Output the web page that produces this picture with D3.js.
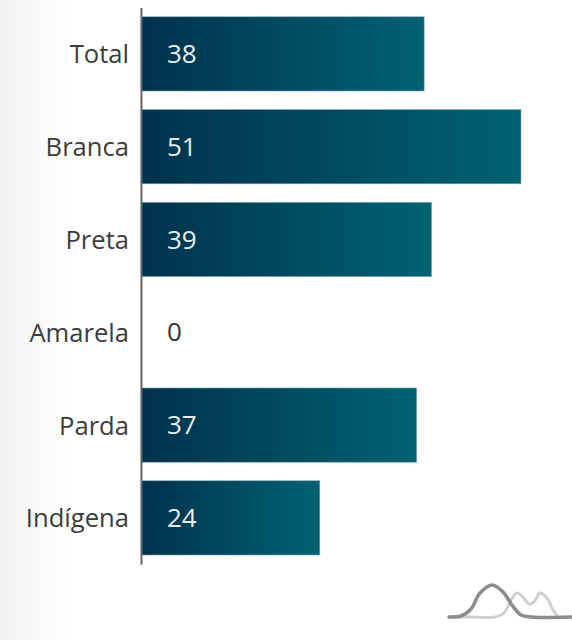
<!DOCTYPE html>
<html lang="pt">
<head>
<meta charset="utf-8">
<script src="https://cdn.jsdelivr.net/npm/d3@7"></script>
<style>
  html, body { margin: 0; padding: 0; background: #fff; }
  svg { display: block; }
  text { font-family: "Open Sans", "Noto Sans", sans-serif; }
</style>
</head>
<body>
<svg id="chart" width="572" height="640"></svg>
<script>
// Share per group, in percent
const categories = ["Total", "Branca", "Preta", "Amarela", "Parda", "Indígena"];
const values = [38, 51, 39, 0, 37, 24];

// Outline of the small two-curve emblem in the bottom right corner
const emblemBack = [[0, 0], [20, 0], [46, 0], [55, -4], [62, -17], [68, -24], [74, -20], [80, -13], [85, -15], [91, -24], [98, -19], [104, -7], [109, 0]];
const emblemFront = [[0, 0], [12, -1], [22, -8], [31, -24], [43, -32], [54, -25], [63, -12], [72, -2], [82, 0], [123, 0]];

const svg = d3.select("#chart");
const width = 572, height = 640;
const margin = { left: 141 };

const x = d3.scaleLinear().domain([0, 51]).range([margin.left, 521]);
const y = d3.scaleBand().domain(categories).range([7.5, 564.3]).paddingInner(0.2).paddingOuter(0.1);

const defs = svg.append("defs");

const pageShade = defs.append("linearGradient").attr("id", "pageShade");
pageShade.append("stop").attr("offset", "0%").attr("stop-color", "#f2f2f2");
pageShade.append("stop").attr("offset", "100%").attr("stop-color", "#ffffff");

const barFill = defs.append("linearGradient").attr("id", "barFill");
barFill.append("stop").attr("offset", "0%").attr("stop-color", "#00324c");
barFill.append("stop").attr("offset", "100%").attr("stop-color", "#006272");

svg.append("rect").attr("width", 70).attr("height", height).attr("fill", "url(#pageShade)");

// Bars, with a faint lighter edge
svg.append("g").selectAll("rect")
  .data(values.map((v, i) => ({ v, c: categories[i] })).filter(d => d.v > 0))
  .join("rect")
  .attr("x", x(0))
  .attr("y", d => y(d.c))
  .attr("width", d => x(d.v) - x(0))
  .attr("height", y.bandwidth())
  .attr("fill", "url(#barFill)")
  .attr("stroke", "#7fa6b3")
  .attr("stroke-width", 0.6);

// Value labels inside the bars
svg.append("g").selectAll("text")
  .data(values.map((v, i) => ({ v, c: categories[i] })))
  .join("text")
  .attr("x", x(0) + 26)
  .attr("y", d => y(d.c) + y.bandwidth() / 2)
  .attr("dy", "0.35em")
  .attr("font-size", 26)
  .attr("fill", d => d.v > 0 ? "#e6eef1" : "#333333")
  .text(d => d.v);

// Category axis
const axis = svg.append("g")
  .attr("transform", `translate(${margin.left},0)`)
  .call(d3.axisLeft(y).tickSize(0).tickPadding(12));
axis.select(".domain").attr("stroke", "#666666").attr("stroke-width", 2);
axis.selectAll("text")
  .attr("font-size", 25.6)
  .attr("dy", "0.37em")
  .attr("fill", "#3c3c3c")
  .style("font-family", '"Open Sans", "Noto Sans", sans-serif');

// Emblem
const emblemLine = d3.line().curve(d3.curveCatmullRom);
const emblem = svg.append("g").attr("transform", "translate(449,617)").attr("fill", "none").attr("stroke-linecap", "round");
emblem.append("path").attr("d", emblemLine(emblemBack)).attr("stroke", "#d0d0d0").attr("stroke-width", 3);
emblem.append("path").attr("d", emblemLine(emblemFront)).attr("stroke", "#8c8c8c").attr("stroke-width", 3.5);
</script>
</body>
</html>
